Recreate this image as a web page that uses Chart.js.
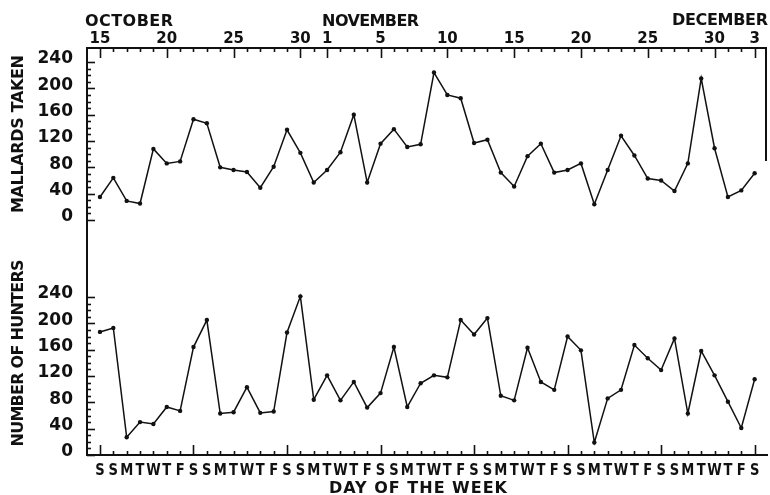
<!DOCTYPE html>
<html><head><meta charset="utf-8">
<script src="https://cdn.jsdelivr.net/npm/chart.js@4.4.1/dist/chart.umd.min.js"></script>
<style>
html,body{margin:0;padding:0;background:#fff;overflow:hidden}
#wrap{position:relative;width:770px;height:495px}
</style></head><body>
<div id="wrap"><canvas id="chart" width="770" height="495"></canvas></div>
<script>
// ---- data ----
const dayLetters = ['S','S','M','T','W','T','F','S','S','M','T','W','T','F','S','S','M','T','W','T','F','S','S','M','T','W','T','F','S','S','M','T','W','T','F','S','S','M','T','W','T','F','S','S','M','T','W','T','F','S'];
const mallardsTaken = [35,64,29,25,108,86,89,153,147,80,76,73,49,81,137,102,57,76,103,160,57,116,138,111,115,224,190,185,117,122,72,51,97,116,72,76,86,24,76,128,98,63,60,44,86,215,109,35,45,71];
const numberOfHunters = [187,193,27,50,47,73,67,164,205,63,65,103,64,66,186,241,84,121,83,111,72,94,164,73,109,121,118,205,183,208,90,83,163,111,99,180,159,19,86,99,167,147,129,177,63,158,121,81,41,115];
const dateTickDays = [0,5,10,15,17,21,26,31,36,41,46,49];
const dateTickLabels = ['15','20','25','30','1','5','10','15','20','25','30','3'];
const monthLabels = ['OCTOBER','NOVEMBER','DECEMBER'];
const valueTicks = [240,200,160,120,80,40,0];
const yTitles = ['MALLARDS TAKEN','NUMBER OF HUNTERS'];
const xTitle = 'DAY OF THE WEEK';

const FONT = '"DejaVu Sans", "Liberation Sans", sans-serif';
const INK = '#111';

function spacedText(ctx, text, x, y, width) {
  ctx.letterSpacing = '0px';
  const w = ctx.measureText(text).width;
  const ls = text.length > 1 ? (width - w) / (text.length - 1) : 0;
  ctx.letterSpacing = ls + 'px';
  ctx.textAlign = 'left';
  ctx.fillText(text, x, y);
  ctx.letterSpacing = '0px';
}

const framePlugin = {
  id: 'frame',
  afterDraw(chart) {
    const { ctx, chartArea: a, scales } = chart;
    const x = scales.x, yM = scales.yM, yH = scales.yH;
    ctx.save();
    ctx.strokeStyle = INK; ctx.fillStyle = INK;
    ctx.lineWidth = 2; ctx.lineCap = 'square';
    const seg = (x1, y1, x2, y2) => { ctx.beginPath(); ctx.moveTo(x1, y1); ctx.lineTo(x2, y2); ctx.stroke(); };
    // frame lines
    seg(a.left, a.top, a.right, a.top);
    seg(a.left, a.top, a.left, a.bottom);
    seg(a.left, a.bottom, a.right + 1, a.bottom);
    seg(a.right, a.top, a.right, yM.getPixelForValue(91));
    ctx.lineWidth = 1.6; ctx.lineCap = 'butt';
    // top (date) ticks and bottom (weekday) ticks
    dayLetters.forEach((d, i) => {
      const px = Math.round(x.getPixelForValue(i)) + 0.5;
      const major = dateTickDays.includes(i);
      seg(px, a.top, px, a.top + (major ? 10 : 4));
      const sat = i % 7 === 0;
      seg(px, a.bottom, px, a.bottom - (sat ? 10 : 4));
    });
    // left value ticks
    const leftTicks = (scale, lo, hi) => {
      for (let v = lo; v <= hi; v += 10) {
        const py = Math.round(scale.getPixelForValue(v)) + 0.5;
        seg(a.left, py, a.left + (v % 40 === 0 ? 8 : 4), py);
      }
    };
    leftTicks(yM, 0, 240);
    leftTicks(yH, 0, 240);

    // value tick labels
    ctx.font = 'bold 17px ' + FONT;
    ctx.textAlign = 'right'; ctx.textBaseline = 'middle';
    valueTicks.forEach(v => {
      ctx.fillText(String(v), 73, yM.getPixelForValue(v) - 3);
      ctx.fillText(String(v), 73, yH.getPixelForValue(v) - 3);
    });

    // date labels
    ctx.font = 'bold 15px ' + FONT;
    ctx.textAlign = 'center'; ctx.textBaseline = 'alphabetic';
    dateTickDays.forEach((d, i) => {
      ctx.fillText(dateTickLabels[i], x.getPixelForValue(d), 43);
    });
    // month labels
    ctx.font = 'bold 16px ' + FONT;
    spacedText(ctx, monthLabels[0], 85, 26, 88);
    spacedText(ctx, monthLabels[1], x.getPixelForValue(17) - 5, 26, 97);
    spacedText(ctx, monthLabels[2], 672, 25, 96);

    // weekday letters
    ctx.font = 'bold 16px ' + FONT;
    ctx.textAlign = 'center'; ctx.textBaseline = 'alphabetic';
    dayLetters.forEach((l, i) => {
      const px = x.getPixelForValue(i);
      ctx.save();
      ctx.translate(px, 475);
      ctx.scale(0.82, 1);
      ctx.fillText(l, 0, 0);
      ctx.restore();
    });
    // x title
    spacedText(ctx, xTitle, 329, 493, 178);

    // y titles (rotated)
    ctx.textBaseline = 'middle';
    const vTitle = (text, cx, cy, len) => {
      ctx.save();
      ctx.translate(cx, cy);
      ctx.rotate(-Math.PI / 2);
      spacedText(ctx, text, -len / 2, 0, len);
      ctx.restore();
    };
    vTitle(yTitles[0], 19, 134, 158);
    vTitle(yTitles[1], 19, 353, 187);
    ctx.restore();
  }
};

const pts = arr => arr.map((v, i) => ({ x: i, y: v }));
const lineStyle = {
  borderColor: INK, backgroundColor: INK, borderWidth: 1.5,
  pointRadius: 2.2, pointBackgroundColor: INK, pointBorderWidth: 0,
  tension: 0, fill: false
};

new Chart(document.getElementById('chart'), {
  type: 'line',
  data: {
    datasets: [
      Object.assign({ label: yTitles[0], data: pts(mallardsTaken), yAxisID: 'yM' }, lineStyle),
      Object.assign({ label: yTitles[1], data: pts(numberOfHunters), yAxisID: 'yH' }, lineStyle)
    ]
  },
  options: {
    responsive: false,
    devicePixelRatio: 1,
    animation: false,
    layout: { padding: { left: 87, right: 1, top: 48, bottom: 40 } },
    scales: {
      x: { type: 'linear', min: -0.97, max: 49.85, display: false },
      yM: { type: 'linear', min: -357, max: 261.3, display: false },
      yH: { type: 'linear', min: 0, max: 618.3, display: false }
    },
    plugins: { legend: { display: false }, tooltip: { enabled: false } }
  },
  plugins: [framePlugin]
});
</script>
</body></html>
